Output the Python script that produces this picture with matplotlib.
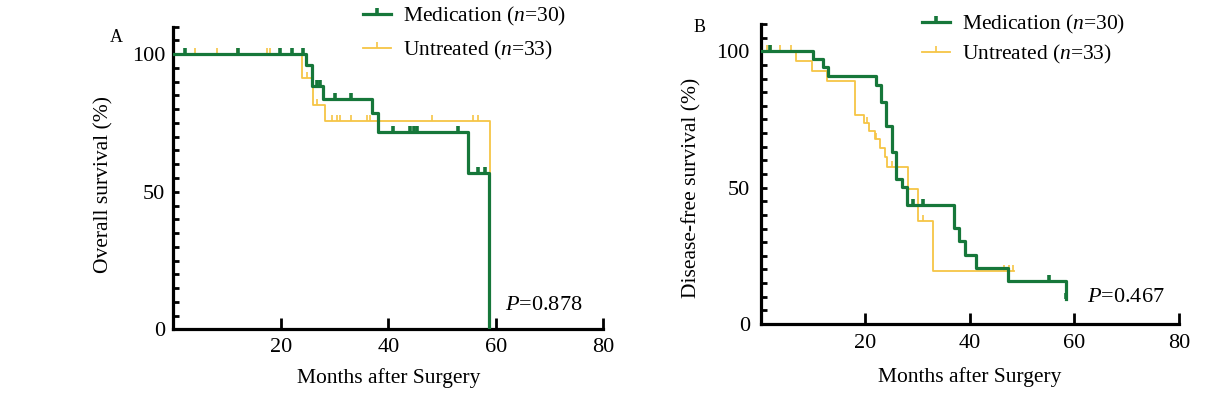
import numpy as np
import matplotlib
matplotlib.use("Agg")
import matplotlib.pyplot as plt
from matplotlib.lines import Line2D
from matplotlib.ticker import MultipleLocator, FixedLocator

plt.rcParams['font.family'] = ['Liberation Serif', 'DejaVu Serif']
plt.rcParams['mathtext.fontset'] = 'custom'
plt.rcParams['mathtext.rm'] = 'Liberation Serif'
plt.rcParams['mathtext.it'] = 'Liberation Serif:italic'

# Panel A - overall survival (Kaplan-Meier steps: month, % surviving)
os_med_t = [0, 24.7, 25.8, 27.9, 36.9, 38.0, 54.9, 58.8]
os_med_s = [100, 96.0, 88.5, 83.7, 78.8, 71.6, 56.9, 0]
os_med_cens = [2.2, 12.1, 19.9, 22.0, 24.1, 26.7, 27.3, 30.1, 33.0,
               40.9, 44.0, 44.7, 45.3, 53.0, 56.7, 58.0]
os_unt_t = [0, 24.0, 25.9, 28.2, 58.9]
os_unt_s = [100, 91.5, 81.5, 75.6, 0]
os_unt_cens = [4.0, 8.1, 11.8, 17.4, 18.0, 24.8, 26.7, 29.5, 30.4, 31.0,
               33.0, 36.0, 36.6, 48.1, 55.8, 56.7]

# Panel B - disease-free survival
dfs_med_t = [0, 10.0, 11.9, 12.8, 22.0, 22.9, 24.0, 25.0, 25.9, 26.9, 28.0,
             37.0, 38.0, 39.1, 41.2, 47.3, 58.4]
dfs_med_s = [100, 97.2, 94.1, 90.9, 87.6, 81.4, 72.6, 63.0, 53.3, 50.3, 43.6,
             35.2, 30.4, 25.3, 20.5, 15.7, 9.3]
dfs_med_cens = [1.7, 29.1, 31.0, 55.2, 58.4]
dfs_unt_t = [0, 6.7, 9.7, 12.6, 18.0, 19.7, 20.6, 21.8, 22.7, 23.8, 24.2,
             28.2, 30.1, 33.0, 48.5]
dfs_unt_s = [100, 96.5, 92.8, 89.0, 76.8, 73.8, 70.8, 67.7, 64.7, 61.1, 57.5,
             49.5, 37.6, 19.3, 19.3]
dfs_unt_cens = [1.1, 2.0, 3.7, 5.8, 20.2, 22.0, 25.0, 31.0, 46.5, 47.5, 48.3]

x_ticks = [20, 40, 60, 80]
y_ticks = [0, 50, 100]
labels = ['Medication ($n$=30)', 'Untreated ($n$=33)']
p_values = ['$P$=0.878', '$P$=0.467']

GREEN = '#16773a'
YELLOW = '#f6c545'


def value_at(t, s, c):
    idx = np.searchsorted(t, c, side='right') - 1
    return np.asarray(s)[idx]


def km_panel(ax, med_t, med_s, med_c, unt_t, unt_s, unt_c, ylab, ptext,
             ypad, xpad, ptxt_xy):
    ax.step(unt_t, unt_s, where='post', color=YELLOW, lw=1.3, zorder=2)
    ax.plot(unt_c, value_at(unt_t, unt_s, unt_c), ls='none', marker=2,
            ms=4, mew=1.2, color=YELLOW, zorder=2)
    ax.step(med_t, med_s, where='post', color=GREEN, lw=2.3, zorder=3)
    ax.plot(med_c, value_at(med_t, med_s, med_c), ls='none', marker=2,
            ms=4, mew=2.6, color=GREEN, zorder=3)

    ax.set_xlim(0, 80)
    ax.set_ylim(0, 110)
    for side in ['top', 'right']:
        ax.spines[side].set_visible(False)
    for side in ['left', 'bottom']:
        ax.spines[side].set_linewidth(2.3)
    ax.xaxis.set_major_locator(FixedLocator(x_ticks))
    ax.yaxis.set_major_locator(FixedLocator(y_ticks))
    ax.yaxis.set_minor_locator(MultipleLocator(5))
    ax.tick_params(axis='x', direction='in', length=8, width=2, pad=xpad,
                   labelsize=16)
    ax.tick_params(axis='y', which='both', direction='in', length=4, width=2,
                   pad=ypad, labelsize=16)

    ax.set_xlabel('Months after Surgery', fontsize=15.5, va='center')
    ax.set_ylabel(ylab, fontsize=15.5, va='center')
    ax.text(ptxt_xy[0], ptxt_xy[1], ptext, transform=ax.transAxes,
            fontsize=16, va='baseline', ha='left')


fig = plt.figure(figsize=(12.13, 3.99), dpi=100)
axA = fig.add_axes([0.1429, 0.1747, 0.3545, 0.7584])
axB = fig.add_axes([0.6274, 0.1880, 0.3444, 0.7519])

km_panel(axA, os_med_t, os_med_s, os_med_cens, os_unt_t, os_unt_s,
         os_unt_cens, 'Overall survival (%)', p_values[0], 6, 6,
         (0.771, 0.064))
axA.xaxis.set_label_coords(0.5, -0.162)
axA.yaxis.set_label_coords(-0.161, 0.48)

km_panel(axB, dfs_med_t, dfs_med_s, dfs_med_cens, dfs_unt_t, dfs_unt_s,
         dfs_unt_cens, 'Disease-free survival (%)', p_values[1], 8, 7.5,
         (0.78, 0.074))
axB.xaxis.set_label_coords(0.5, -0.176)
axB.yaxis.set_label_coords(-0.165, 0.455)

handles = [Line2D([], [], color=GREEN, lw=2.3, marker=2, ms=4, mew=2.6),
           Line2D([], [], color=YELLOW, lw=1.3, marker=2, ms=4, mew=1.2)]
axA.legend(handles, labels, loc='upper left', bbox_to_anchor=(0.2995, 0.987),
           bbox_transform=fig.transFigure, frameon=False, borderpad=0,
           borderaxespad=0, handlelength=1.3, handletextpad=0.55,
           labelspacing=0.52, fontsize=15.5, numpoints=1)
axB.legend(handles, labels, loc='upper left', bbox_to_anchor=(0.7604, 0.967),
           bbox_transform=fig.transFigure, frameon=False, borderpad=0,
           borderaxespad=0, handlelength=1.3, handletextpad=0.55,
           labelspacing=0.33, fontsize=15.5, numpoints=1)

fig.text(0.0956, 0.907, 'A', fontsize=13, ha='center', va='center')
fig.text(0.577, 0.93, 'B', fontsize=13, ha='center', va='center')

fig.savefig('out.png', dpi=100)
